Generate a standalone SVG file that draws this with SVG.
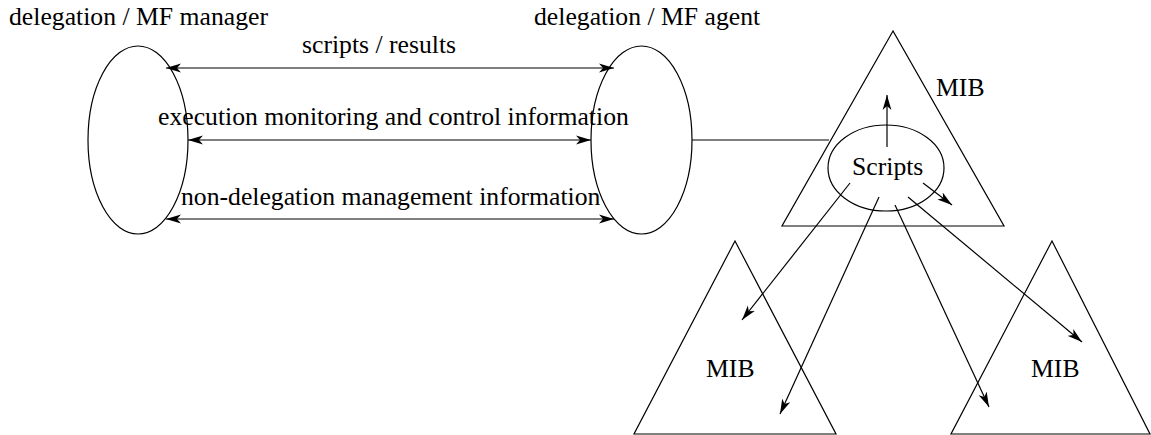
<svg xmlns="http://www.w3.org/2000/svg" width="1151" height="435" viewBox="0 0 1151 435">
<style>
.s{fill:none;stroke:#000;stroke-width:1.2}
.t{font-family:'Liberation Serif','Times New Roman',serif;font-size:25.7px;fill:#000}
.c{fill:none;stroke:#000;stroke-width:1.2}
.a{marker-end:url(#ah)}
.d{marker-start:url(#ah);marker-end:url(#ah)}
</style>
<defs>
<marker id="ah" markerUnits="userSpaceOnUse" markerWidth="16" markerHeight="10" refX="15" refY="5" orient="auto-start-reverse" viewBox="0 0 16 10">
<path d="M0,0.6 L15,5 L0,9.4 L4,5 Z" fill="#000"/>
</marker>
</defs>
<rect width="1151" height="435" fill="#fff"/>
<g id="manager">
<ellipse class="s" cx="138" cy="140" rx="50" ry="94"/>
<text class="t" font-family="Liberation Serif, serif" x="9" y="25">delegation / MF manager</text>
</g>
<g id="agent">
<ellipse class="s" cx="641.5" cy="140" rx="50.5" ry="94"/>
<text class="t" font-family="Liberation Serif, serif" x="534" y="25">delegation / MF agent</text>
</g>
<g id="mib-top">
<polygon class="s" points="893,31 782,226 1004,226"/>
<text class="t" font-family="Liberation Serif, serif" x="936" y="96">MIB</text>
</g>
<g id="scripts">
<ellipse class="s" cx="886" cy="168" rx="58" ry="43"/>
<text class="t" font-family="Liberation Serif, serif" x="852" y="175">Scripts</text>
</g>
<g id="mib-left">
<polygon class="s" points="735,241 634,434 836,434"/>
<text class="t" font-family="Liberation Serif, serif" x="706" y="377">MIB</text>
</g>
<g id="mib-right">
<polygon class="s" points="1052,241 951,434 1150,434"/>
<text class="t" font-family="Liberation Serif, serif" x="1031" y="377">MIB</text>
</g>
<g id="connectors">
<line class="c d" x1="166" y1="68" x2="614" y2="68"/>
<line class="c d" x1="188" y1="140" x2="591" y2="140"/>
<line class="c d" x1="166" y1="219" x2="614" y2="219"/>
<line class="c" x1="692" y1="140" x2="829" y2="140"/>
<line class="c a" x1="887" y1="147" x2="887" y2="95"/>
<line class="c a" x1="923" y1="183" x2="952" y2="205"/>
<line class="c a" x1="850" y1="183" x2="742" y2="320"/>
<line class="c a" x1="879" y1="197" x2="780" y2="414"/>
<line class="c a" x1="895" y1="205" x2="989" y2="407"/>
<line class="c a" x1="908" y1="197" x2="1082" y2="342"/>
</g>
<g id="labels">
<text class="t" font-family="Liberation Serif, serif" x="302" y="53">scripts / results</text>
<text class="t" font-family="Liberation Serif, serif" x="158" y="125">execution monitoring and control information</text>
<text class="t" font-family="Liberation Serif, serif" x="181" y="205">non-delegation management information</text>
</g>
</svg>
